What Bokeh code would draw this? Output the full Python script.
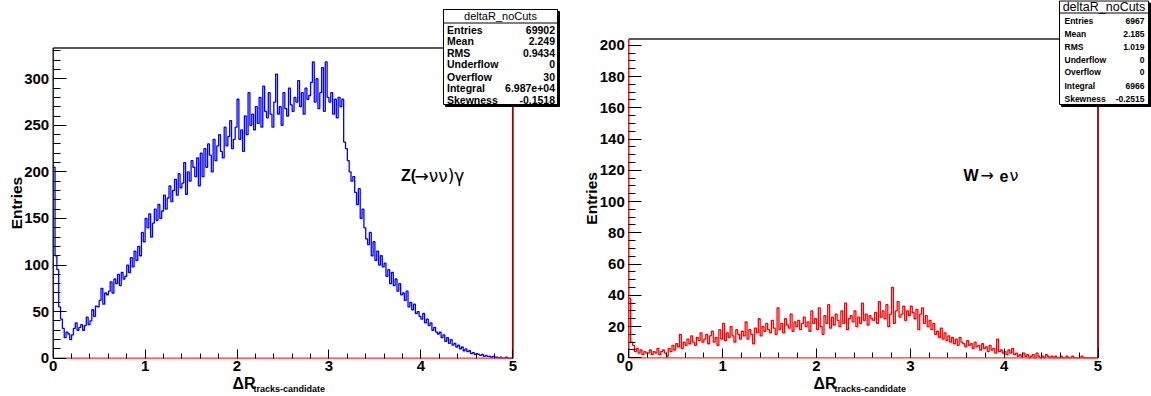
import numpy as np
from bokeh.plotting import figure
from bokeh.models import Label, BoxAnnotation, SingleIntervalTicker, Range1d, LinearAxis
from bokeh.layouts import row
from bokeh.embed import file_html
from bokeh.resources import INLINE

# ---------------- data ----------------
bin_width = 0.02
x_min, x_max = 0.0, 5.0

z_counts = [
    205, 110, 95, 55, 42, 32, 22, 28, 26, 20,
    25, 32, 38, 30, 33, 36, 30, 35, 44, 36,
    40, 52, 45, 56, 55, 62, 75, 58, 70, 68,
    72, 82, 70, 85, 80, 90, 78, 92, 85, 88,
    100, 92, 108, 98, 115, 105, 120, 110, 135, 125,
    150, 140, 155, 130, 145, 160, 148, 165, 150, 158,
    175, 160, 172, 185, 168, 180, 192, 175, 198, 183,
    188, 210, 176, 200, 190, 212, 205, 195, 215, 185,
    220, 195, 225, 205, 230, 218, 200, 235, 212, 228,
    240, 222, 215, 248, 228, 238, 255, 225, 235, 248,
    278, 235, 245, 222, 260, 240, 285, 250, 262, 245,
    270, 252, 280, 248, 292, 265, 258, 285, 262, 248,
    275, 305, 262, 270, 250, 285, 268, 260, 290, 272,
    265, 280, 275, 298, 270, 285, 262, 290, 278, 282,
    296, 318, 275, 300, 268, 285, 312, 265, 318, 280,
    275, 285, 262, 278, 258, 280, 270, 278, 232, 225,
    212, 200, 190, 195, 178, 165, 182, 150, 160, 140,
    128, 122, 135, 110, 125, 105, 115, 100, 110, 98,
    102, 88, 95, 80, 92, 78, 85, 72, 80, 68,
    70, 62, 72, 55, 60, 52, 58, 48, 50, 45,
    42, 48, 38, 42, 35, 38, 30, 33, 28, 26,
    28, 22, 25, 18, 22, 16, 20, 14, 16, 12,
    14, 10, 12, 8, 10, 7, 8, 5, 6, 4,
    5, 4, 3, 4, 2, 3, 2, 2, 1, 2,
    1, 1, 0, 1, 0, 0, 1, 0, 0, 0,
]

w_counts = [
    38, 10, 8, 4, 6, 3, 5, 2, 4, 3,
    3, 5, 2, 4, 3, 6, 2, 4, 5, 3,
    1, 6, 4, 8, 5, 9, 7, 15, 6, 10,
    8, 12, 9, 14, 10, 8, 13, 11, 16, 10,
    12, 15, 9, 14, 17, 10, 13, 8, 18, 12,
    22, 11, 16, 13, 20, 14, 10, 18, 15, 12,
    17, 14, 23, 12, 18, 15, 9, 19, 16, 25,
    14, 20, 17, 22, 18, 16, 24, 19, 15, 32,
    18, 22, 16, 25, 21, 19, 28, 17, 23, 20,
    24, 18, 22, 26, 20, 23, 17, 30, 22, 25,
    18, 32, 20, 15, 27, 22, 34, 19, 26, 21,
    28, 24, 20, 30, 22, 35, 18, 25, 27, 23,
    30, 20, 26, 22, 35, 24, 28, 21, 27, 25,
    24, 29, 22, 36, 26, 30, 25, 34, 20, 28,
    45, 22, 30, 36, 26, 28, 33, 24, 30, 27,
    33, 29, 25, 31, 18, 28, 32, 22, 27, 20,
    24, 18, 22, 15, 17, 13, 19, 12, 16, 11,
    14, 10, 13, 9, 12, 8, 13, 10, 9, 7,
    11, 8, 9, 6, 10, 7, 8, 5, 9, 6,
    7, 4, 8, 5, 6, 3, 12, 4, 5, 3,
    4, 2, 5, 3, 6, 2, 3, 1, 2, 1,
    3, 1, 2, 0, 1, 2, 0, 3, 1, 0,
    1, 0, 2, 1, 0, 1, 0, 1, 0, 0,
    1, 0, 0, 1, 0, 0, 1, 0, 0, 0,
    0, 1, 0, 0, 0, 0, 0, 0, 0, 0,
]

hist_name = "deltaR_noCuts"
stat_names = ["Entries", "Mean", "RMS", "Underflow", "Overflow", "Integral", "Skewness"]
z_stats = ["69902", "2.249", "0.9434", "0", "30", "6.987e+04", "-0.1518"]
w_stats = ["6967", "2.185", "1.019", "0", "0", "6966", "-0.2515"]

y_title = "Entries"
x_title_main = "\u0394R"
x_title_sub = "tracks-candidate"

FONT = "Liberation Sans"
SYM = "DejaVu Sans"
H = 396


def lab(p, x, y, text, size, bold=True, align="left", baseline="middle", angle=0.0,
        color="black", font=FONT):
    p.add_layout(Label(x=x, y=y, x_units="canvas", y_units="canvas", text=text,
                       text_font=font, text_font_size=f"{size}px",
                       text_font_style="bold" if bold else "normal",
                       text_align=align, text_baseline=baseline, angle=angle,
                       text_color=color))


def box(p, l, r, t, b, fill="white", line="black", lw=1.0):
    p.add_layout(BoxAnnotation(left=l, right=r, top=t, bottom=b,
                               left_units="canvas", right_units="canvas",
                               top_units="canvas", bottom_units="canvas",
                               fill_color=fill, fill_alpha=1.0,
                               line_color=line, line_width=lw, line_alpha=1.0))


def make_panel(counts, color, width, ymax, y_interval, y_minor, frame_px, ox,
               stats, sbox, rows_y, header_y, header_size, row_size, row_lx, row_rx,
               ann_parts, ytitle_x, xt_x, sub_x, left_edge_color):
    fl, fr, ft, fb = frame_px
    xs_per_px = (x_max - x_min) / (fr - fl)
    ys_per_px = ymax / (fb - ft)
    xr = Range1d(x_min - fl * xs_per_px, x_max + (width - fr) * xs_per_px)
    yr = Range1d(0 - (H - fb) * ys_per_px, ymax + ft * ys_per_px)

    p = figure(width=width, height=H, output_backend="svg", toolbar_location=None,
               x_range=xr, y_range=yr, title=None,
               x_axis_location=None, y_axis_location=None,
               min_border=0, background_fill_color="white",
               border_fill_color="white", outline_line_color=None)
    p.grid.visible = False

    lo = [x_min + i * bin_width for i in range(len(counts))]
    xs = lo + [x_max]
    ys = list(counts) + [counts[-1]]
    p.step(xs, ys, mode="after", line_color=color, line_width=1.3)

    # frame: top and left black, bottom red, right dark red (ROOT look)
    p.segment(x0=[x_min], y0=[ymax], x1=[x_max], y1=[ymax], line_color="#222222", line_width=1.5)
    p.segment(x0=[x_min], y0=[0], x1=[x_min], y1=[ymax],
              line_color=left_edge_color or "#111111", line_width=1.4)
    p.segment(x0=[x_min], y0=[0], x1=[x_max], y1=[0], line_color="#ff3030", line_width=1.2)
    p.segment(x0=[x_max], y0=[0], x1=[x_max], y1=[ymax], line_color="#9a0000", line_width=1.8)

    ax = LinearAxis(fixed_location=0, bounds=(x_min, x_max))
    ax.ticker = SingleIntervalTicker(interval=1, num_minor_ticks=5)
    ax.major_tick_in = 9
    ax.major_tick_out = 0
    ax.minor_tick_in = 5
    ax.minor_tick_out = 0
    ax.major_label_standoff = 3
    ax.major_label_text_font = FONT
    ax.major_label_text_font_style = "bold"
    ax.major_label_text_font_size = "15px"
    ax.major_label_text_color = "black"
    ax.axis_line_color = None
    ax.major_tick_line_color = "black"
    ax.minor_tick_line_color = "black"
    p.add_layout(ax, "below")

    ay = LinearAxis(fixed_location=x_min, bounds=(0, ymax))
    ay.ticker = SingleIntervalTicker(interval=y_interval, num_minor_ticks=y_minor)
    ay.major_tick_in = 13
    ay.major_tick_out = 0
    ay.minor_tick_in = 7
    ay.minor_tick_out = 0
    ay.major_label_standoff = 4
    ay.major_label_text_font = FONT
    ay.major_label_text_font_style = "bold"
    ay.major_label_text_font_size = "15px"
    ay.major_label_text_color = "black"
    ay.axis_line_color = None
    ay.major_tick_line_color = "black"
    ay.minor_tick_line_color = "black"
    p.add_layout(ay, "left")

    # axis titles
    lab(p, ytitle_x - ox, (ft + fb) / 2, y_title, 15.5, angle=np.pi / 2, align="center")
    lab(p, xt_x - ox, 382.5, x_title_main, 16, align="left")
    lab(p, sub_x - ox, 388, x_title_sub, 9, align="left")

    # process annotation
    for (txt, xx, size, bold, font) in ann_parts:
        lab(p, xx - ox, 175, txt, size, bold=bold, align="left", font=font)

    # stats box
    l, r, t, b, sep = sbox
    box(p, l - ox + 2, r - ox + 2, t + 2, b + 2, fill="black")
    box(p, l - ox, r - ox, t, b)
    box(p, l - ox, r - ox, t, sep)
    lab(p, (l + r) / 2 - ox, header_y, hist_name, header_size, bold=False, align="center")
    for name, val, yy in zip(stat_names, stats, rows_y):
        lab(p, row_lx - ox, yy, name, row_size, align="left")
        lab(p, row_rx - ox, yy, val, row_size, align="right")
    return p


z_ann = [("Z(", 400.5, 16, True, FONT), ("\u2192\u03bd\u03bd)\u03b3", 414, 17, False, SYM)]
w_ann = [("W", 963, 16, True, FONT), ("\u2192", 980, 16, False, SYM),
         ("e", 999, 16, True, FONT), ("\u03bd", 1009, 16, False, SYM)]

p1 = make_panel(z_counts, "#0000ff", 575, 333, 50, 5, (52.7, 512.3, 47.5, 357.7), 0,
                z_stats, (443, 557, 9, 104, 22.5),
                [29.5, 40.5, 52.5, 63.5, 76.5, 87.5, 99.5], 15.5, 11, 10.5, 446.5, 554.5,
                z_ann, 15.5, 232, 253, None)
p2 = make_panel(w_counts, "#ff0000", 576, 204, 20, 4, (53.3, 522.5, 38.5, 357.3), 575,
                w_stats, (1059, 1148, 0.5, 104, 12.5),
                [20.5, 33.5, 46.5, 59.5, 71.5, 85, 98.5], 6.5, 12.5, 8.5, 1064, 1144,
                w_ann, 591, 813, 834, "#ff0000")

layout = row(p1, p2)
open("out.html", "w").write(file_html(layout, INLINE))
